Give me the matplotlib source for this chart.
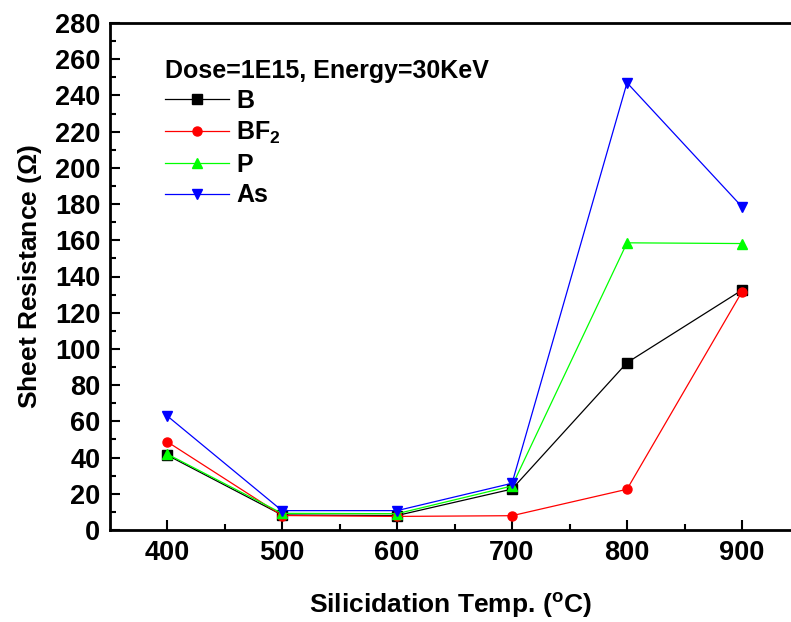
import matplotlib
matplotlib.use("Agg")
import matplotlib.pyplot as plt
from matplotlib.ticker import MultipleLocator

plt.rcParams['font.family'] = ['Liberation Sans', 'DejaVu Sans']
plt.rcParams['font.weight'] = 'bold'
plt.rcParams['mathtext.fontset'] = 'custom'
plt.rcParams['mathtext.rm'] = 'Liberation Sans:bold'
plt.rcParams['mathtext.bf'] = 'Liberation Sans:bold'
plt.rcParams['mathtext.it'] = 'Liberation Sans:bold'

temps = [400, 500, 600, 700, 800, 900]
b_vals = [41.4, 8.3, 8.0, 22.6, 92.4, 132.5]
bf2_vals = [48.8, 8.0, 7.5, 7.9, 22.5, 131.6]
p_vals = [42.0, 9.2, 9.0, 24.3, 158.6, 158.2]
as_vals = [63.1, 10.7, 10.7, 25.8, 247.0, 178.5]

labels = ['B', 'BF$_\\mathregular{2}$', 'P', 'As']
colors = ['#000000', '#FF0000', '#00FF00', '#0000FF']
markers = ['s', 'o', '^', 'v']
series = [b_vals, bf2_vals, p_vals, as_vals]

fig = plt.figure(figsize=(7.91, 6.22), dpi=100)
ax = fig.add_axes([110/791, 92/622, 1 - 110/791, (530-23)/622])

for vals, lab, c, m in zip(series, labels, colors, markers):
    ax.plot(temps, vals, color=c, marker=m, markersize=6.5, linewidth=0.9,
            label=lab, markeredgecolor=c)

ax.set_xlim(350.4, 942.6)
ax.set_ylim(0, 280)
ax.xaxis.set_major_locator(MultipleLocator(100))
ax.xaxis.set_minor_locator(MultipleLocator(50))
ax.yaxis.set_major_locator(MultipleLocator(20))
ax.yaxis.set_minor_locator(MultipleLocator(10))
ax.tick_params(which='major', direction='in', length=7, width=1.5, labelsize=19.5, pad=7)
ax.tick_params(which='minor', direction='in', length=4, width=1.5)
ax.tick_params(top=False, right=False, which='both')
for lbl in ax.get_xticklabels() + ax.get_yticklabels():
    lbl.set_fontweight('bold')
for s in ['left', 'bottom', 'top']:
    ax.spines[s].set_linewidth(2)
ax.spines['right'].set_visible(False)

ax.set_xlabel('Silicidation Temp. ($\\mathregular{^o}$C)', fontsize=19, fontweight='bold', labelpad=18)
ax.set_ylabel('Sheet Resistance ($\\Omega$)', fontsize=19, fontweight='bold', labelpad=8)

leg = ax.legend(title='Dose=1E15, Energy=30KeV', loc='upper left',
                bbox_to_anchor=(0.062, 0.953), frameon=False, fontsize=18,
                title_fontsize=18, handlelength=2.56, labelspacing=0.27,
                handletextpad=0.3, borderpad=0)
leg._legend_box.align = 'left'
leg._legend_box.sep = 4
leg.get_title().set_fontweight('bold')

fig.savefig('out.png', dpi=100)
